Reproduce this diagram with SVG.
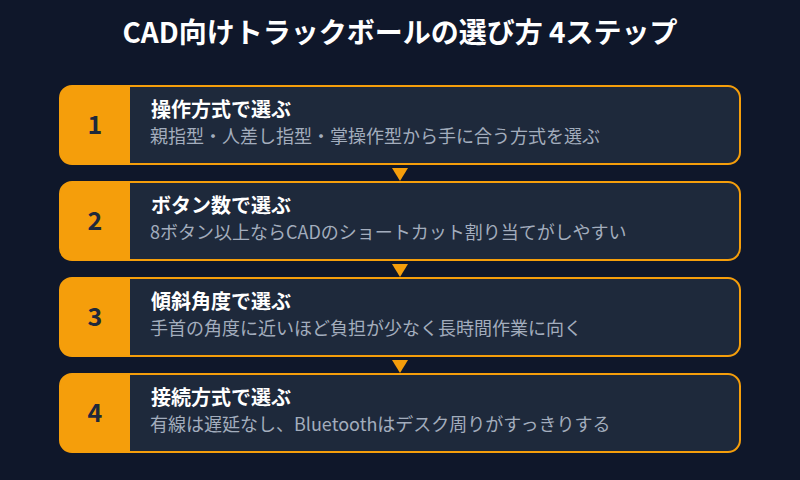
<svg xmlns="http://www.w3.org/2000/svg" width="800" height="480" viewBox="0 0 800 480">
<style>
.card{fill:#1e293b;stroke:#f59e0b;stroke-width:2}
.num{fill:#f59e0b}
.nt{font-family:"Noto Sans CJK JP","Noto Sans",sans-serif;font-size:25px;font-weight:bold;fill:#1e293b;text-anchor:middle}
.h{font-family:"Noto Sans CJK JP",sans-serif;font-size:20px;font-weight:bold;fill:#ffffff}
.s{font-family:"Noto Sans CJK JP",sans-serif;font-size:18px;fill:#a3adbd}
.arr{fill:#f59e0b}
</style>
<rect width="800" height="480" fill="#0f172a"/>
<text x="400" y="43" text-anchor="middle" font-family="Noto Sans CJK JP,sans-serif" font-size="28" font-weight="bold" fill="#ffffff">CAD向けトラックボールの選び方 4ステップ</text>
<g id="connectors">
<polygon class="arr" points="392,168 408,168 400,181"/>
<polygon class="arr" points="392,264 408,264 400,277"/>
<polygon class="arr" points="392,360 408,360 400,373"/>
</g>
<g id="step1">
<rect class="card" x="60" y="86" width="680" height="78" rx="12"/>
<path class="num" d="M72,86 H130 V164 H72 A12,12 0 0 1 60,152 V98 A12,12 0 0 1 72,86 Z"/>
<text class="nt" x="95" y="134">1</text>
<text class="h" x="151" y="117">操作方式で選ぶ</text>
<text class="s" x="150" y="143">親指型・人差し指型・掌操作型から手に合う方式を選ぶ</text>
</g>
<g id="step2">
<rect class="card" x="60" y="182" width="680" height="78" rx="12"/>
<path class="num" d="M72,182 H130 V260 H72 A12,12 0 0 1 60,248 V194 A12,12 0 0 1 72,182 Z"/>
<text class="nt" x="95" y="230">2</text>
<text class="h" x="151" y="213">ボタン数で選ぶ</text>
<text class="s" x="150" y="239">8ボタン以上ならCADのショートカット割り当てがしやすい</text>
</g>
<g id="step3">
<rect class="card" x="60" y="278" width="680" height="78" rx="12"/>
<path class="num" d="M72,278 H130 V356 H72 A12,12 0 0 1 60,344 V290 A12,12 0 0 1 72,278 Z"/>
<text class="nt" x="95" y="326">3</text>
<text class="h" x="151" y="309">傾斜角度で選ぶ</text>
<text class="s" x="150" y="335">手首の角度に近いほど負担が少なく長時間作業に向く</text>
</g>
<g id="step4">
<rect class="card" x="60" y="374" width="680" height="78" rx="12"/>
<path class="num" d="M72,374 H130 V452 H72 A12,12 0 0 1 60,440 V386 A12,12 0 0 1 72,374 Z"/>
<text class="nt" x="95" y="422">4</text>
<text class="h" x="151" y="405">接続方式で選ぶ</text>
<text class="s" x="150" y="431">有線は遅延なし、Bluetoothはデスク周りがすっきりする</text>
</g>
</svg>
